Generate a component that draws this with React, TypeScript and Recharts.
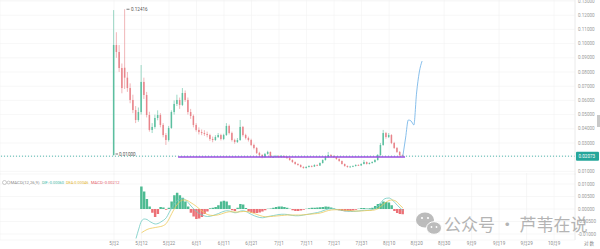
import {
  ComposedChart,
  Bar,
  Line,
  XAxis,
  YAxis,
  CartesianGrid,
  ReferenceLine,
  ReferenceDot,
  Cell,
} from 'recharts'

// day offsets from 5月2
const tickDays = [0, 10, 20, 30, 40, 50, 60, 70, 80, 90, 100, 110, 120, 130, 140, 150, 160]
const tickLabels = ['5月2', '5月12', '5月22', '6月1', '6月11', '6月21', '7月1', '7月11', '7月21', '7月31', '8月10', '8月20', '8月30', '9月9', '9月19', '9月29', '10月9']

const priceTicks = [0.01, 0.03, 0.04, 0.05, 0.06, 0.07, 0.08, 0.09, 0.1, 0.11, 0.12, 0.13]
const macdTicks = [0.01, 0.005, 0, -0.005, -0.01]
const lastPrice = 0.02073
const supportPrice = 0.0201
const highPrice = 0.1242
const highText = '0.12416'
const lowPrice = 0.0212
const lowText = '0.01000'

const opens = [
  0.0215, 0.099, 0.0941, 0.0828, 0.083, 0.076, 0.0687, 0.0603, 0.0532, 0.0462,
  0.0518, 0.073, 0.0638, 0.0497, 0.0392, 0.0413, 0.0476, 0.0497, 0.0427, 0.0356,
  0.0321, 0.0406, 0.0518, 0.0575, 0.0603, 0.0568, 0.0652, 0.0603, 0.0518, 0.049,
  0.0427, 0.0392, 0.0377, 0.037, 0.0363, 0.0356, 0.0328, 0.0321, 0.0342, 0.0356,
  0.0328, 0.0356, 0.042, 0.037, 0.0321, 0.0307, 0.0321, 0.0413, 0.0356, 0.0335,
  0.0321, 0.0286, 0.0265, 0.023, 0.0215, 0.0201, 0.0223, 0.0237, 0.0201, 0.0203,
  0.0208, 0.0201, 0.0208, 0.0201, 0.0194, 0.018, 0.0166, 0.0152, 0.0145, 0.0131,
  0.0124, 0.0131, 0.0138, 0.0134, 0.0145, 0.0141, 0.0159, 0.018, 0.0201, 0.0215,
  0.0208, 0.0201, 0.0187, 0.0173, 0.0152, 0.0138, 0.0131, 0.0134, 0.0138, 0.0145,
  0.0142, 0.0152, 0.0166, 0.0152, 0.0159, 0.0166, 0.018, 0.0215, 0.0286, 0.037,
  0.0342, 0.0356, 0.03, 0.0265, 0.0237, 0.0215,
]
const highs = [
  0.1236, 0.108, 0.099, 0.086, 0.1242, 0.08, 0.072, 0.064, 0.056, 0.055,
  0.0849, 0.076, 0.066, 0.052, 0.044, 0.05, 0.053, 0.051, 0.044, 0.037,
  0.042, 0.053, 0.06, 0.064, 0.062, 0.0687, 0.067, 0.062, 0.054, 0.05,
  0.044, 0.041, 0.0395, 0.039, 0.038, 0.0365, 0.0345, 0.0355, 0.037, 0.0365,
  0.0365, 0.044, 0.043, 0.038, 0.033, 0.0335, 0.0462, 0.042, 0.0365, 0.0345,
  0.033, 0.0295, 0.0272, 0.0238, 0.0222, 0.023, 0.0245, 0.024, 0.0212, 0.0216,
  0.0214, 0.0215, 0.0212, 0.0206, 0.0198, 0.0185, 0.017, 0.0158, 0.015, 0.0136,
  0.0137, 0.0143, 0.0143, 0.015, 0.015, 0.0163, 0.0185, 0.0206, 0.0237, 0.0222,
  0.0213, 0.0205, 0.0192, 0.0177, 0.0156, 0.0142, 0.0139, 0.0143, 0.015, 0.015,
  0.0157, 0.018, 0.017, 0.0164, 0.0171, 0.0186, 0.0222, 0.03, 0.0392, 0.0378,
  0.037, 0.0362, 0.0308, 0.0272, 0.0243, 0.0219,
]
const lows = [
  0.0212, 0.09, 0.08, 0.065, 0.068, 0.066, 0.058, 0.051, 0.044, 0.045,
  0.05, 0.061, 0.048, 0.038, 0.037, 0.04, 0.046, 0.041, 0.034, 0.0286,
  0.031, 0.04, 0.05, 0.056, 0.054, 0.056, 0.059, 0.05, 0.047, 0.041,
  0.038, 0.036, 0.0355, 0.035, 0.034, 0.0315, 0.0305, 0.0315, 0.0335, 0.0318,
  0.032, 0.035, 0.036, 0.031, 0.0295, 0.03, 0.0315, 0.0345, 0.0325, 0.031,
  0.0278, 0.0255, 0.0222, 0.0205, 0.0192, 0.0196, 0.0218, 0.0195, 0.0195, 0.0198,
  0.0196, 0.0197, 0.0195, 0.0188, 0.0175, 0.016, 0.0147, 0.014, 0.0127, 0.0119,
  0.012, 0.0127, 0.0129, 0.0131, 0.0137, 0.0138, 0.0155, 0.0176, 0.0196, 0.02,
  0.0195, 0.0182, 0.0168, 0.0148, 0.0133, 0.0126, 0.0127, 0.013, 0.0134, 0.0138,
  0.0139, 0.0149, 0.0148, 0.0149, 0.0155, 0.0162, 0.0176, 0.021, 0.028, 0.033,
  0.0335, 0.0292, 0.0258, 0.023, 0.0205, 0.0201,
]
const closes = [
  0.099, 0.0941, 0.0828, 0.0687, 0.076, 0.0687, 0.0603, 0.0532, 0.0462, 0.0518,
  0.073, 0.0638, 0.0497, 0.0392, 0.0413, 0.0476, 0.0497, 0.0427, 0.0356, 0.0321,
  0.0406, 0.0518, 0.0575, 0.0603, 0.0568, 0.0652, 0.0603, 0.0518, 0.049, 0.0427,
  0.0392, 0.0377, 0.037, 0.0363, 0.0356, 0.0328, 0.0321, 0.0342, 0.0356, 0.0328,
  0.0356, 0.042, 0.037, 0.0321, 0.0307, 0.0321, 0.0413, 0.0356, 0.0335, 0.0321,
  0.0286, 0.0265, 0.023, 0.0215, 0.0201, 0.0223, 0.0237, 0.0201, 0.0203, 0.0208,
  0.0201, 0.0208, 0.0201, 0.0194, 0.018, 0.0166, 0.0152, 0.0145, 0.0131, 0.0124,
  0.0131, 0.0138, 0.0134, 0.0145, 0.0141, 0.0159, 0.018, 0.0201, 0.0215, 0.0208,
  0.0201, 0.0187, 0.0173, 0.0152, 0.0138, 0.0131, 0.0134, 0.0138, 0.0145, 0.0142,
  0.0152, 0.0166, 0.0152, 0.0159, 0.0166, 0.018, 0.0215, 0.0286, 0.037, 0.0342,
  0.0356, 0.03, 0.0265, 0.0237, 0.0215, 0.0207,
]

// blue projection after the last candle
const forecastDays = [105, 106, 107, 108, 109, 110, 111, 112]
const forecastPrices = [0.0207, 0.0335, 0.0462, 0.0455, 0.0427, 0.0652, 0.08, 0.0877]

const difValues = [
  null, null, null, null, null, null, null, null, -0.0118, -0.008,
  -0.0048, -0.004, -0.0042, -0.005, -0.0056, -0.006, -0.0058, -0.0052, -0.0045, -0.0035,
  -0.0015, 0.0005, 0.0022, 0.0034, 0.004, 0.0042, 0.0036, 0.0025, 0.0012, 0.0,
  -0.001, -0.0018, -0.0024, -0.0028, -0.003, -0.0029, -0.0026, -0.0022, -0.0018, -0.0013,
  -0.0009, -0.0007, -0.0008, -0.0012, -0.0015, -0.0013, -0.0008, -0.0007, -0.001, -0.0016,
  -0.0022, -0.0027, -0.0031, -0.0034, -0.0035, -0.0033, -0.003, -0.0028, -0.0026, -0.0024,
  -0.0022, -0.0021, -0.0021, -0.0022, -0.0024, -0.0026, -0.0027, -0.0027, -0.0026, -0.0024,
  -0.0022, -0.002, -0.0018, -0.0016, -0.0014, -0.0011, -0.0007, -0.0003, 0.0, 0.0001,
  0.0, -0.0002, -0.0004, -0.0006, -0.0008, -0.0009, -0.001, -0.001, -0.0009, -0.0008,
  -0.0006, -0.0005, -0.0005, -0.0004, -0.0002, 0.0003, 0.0012, 0.0025, 0.0038, 0.0043,
  0.0044, 0.0038, 0.0027, 0.0015, 0.0004, -0.0006,
]
const deaValues = [
  null, null, null, null, null, null, null, null, null, null,
  -0.0095, -0.0088, -0.0082, -0.0078, -0.0076, -0.0074, -0.0072, -0.007, -0.0066, -0.0058,
  -0.004, -0.0018, 0.0002, 0.0018, 0.003, 0.0036, 0.0036, 0.0032, 0.0025, 0.0018,
  0.001, 0.0001, -0.0008, -0.0016, -0.0022, -0.0025, -0.0026, -0.0025, -0.0023, -0.002,
  -0.0016, -0.0013, -0.0011, -0.0011, -0.0012, -0.0012, -0.0011, -0.001, -0.001, -0.0011,
  -0.0014, -0.0018, -0.0022, -0.0026, -0.0029, -0.0031, -0.0031, -0.003, -0.0029, -0.0028,
  -0.0027, -0.0026, -0.0025, -0.0024, -0.0024, -0.0024, -0.0024, -0.0024, -0.0024, -0.0023,
  -0.0022, -0.0021, -0.002, -0.0019, -0.0018, -0.0016, -0.0013, -0.0009, -0.0006, -0.0004,
  -0.0003, -0.0003, -0.0003, -0.0004, -0.0005, -0.0006, -0.0007, -0.0008, -0.0008, -0.0008,
  -0.0008, -0.0007, -0.0006, -0.0006, -0.0005, -0.0003, 0.0002, 0.001, 0.002, 0.0028,
  0.0034, 0.0036, 0.0034, 0.0027, 0.0015, 0.0005,
]
const histValues = [
  null, null, null, null, null, null, null, null, null, null,
  0.009, 0.007, 0.004, 0.001, -0.0015, -0.0032, -0.002, 0.0008, 0.0006, -0.0003,
  0.0005, 0.003, 0.0055, 0.0065, 0.0055, 0.0045, 0.003, 0.001, -0.0015, -0.003,
  -0.004, -0.0038, -0.0032, -0.002, -0.001, 0.0003, 0.0005, 0.0008, 0.0015, 0.003,
  0.0033, 0.003, 0.0015, -0.0005, -0.0008, 0.0005, 0.002, 0.0018, 0.0004, -0.001,
  -0.0015, -0.0016, -0.0016, -0.0014, -0.001, -0.0005, 0.0001, 0.0002, 0.0005, 0.0008,
  0.001, 0.001, 0.0008, 0.0005, 0.0001, -0.0005, -0.0008, -0.0008, -0.0006, -0.0003,
  0.0001, 0.0003, 0.0005, 0.0005, 0.0006, 0.0007, 0.0008, 0.001, 0.0009, 0.0006,
  0.0002, -0.0002, -0.0005, -0.0008, -0.0009, -0.0009, -0.0008, -0.0006, -0.0003, 0.0001,
  0.0004, 0.0004, 0.0002, 0.0003, 0.0005, 0.0012, 0.002, 0.0022, 0.003, 0.0028,
  0.0026, 0.0015, -0.0008, -0.0016, -0.002, -0.0021,
]

const X_DOMAIN: [number, number] = [-41.45, 167.6]
const UP = '#5bbf9f'
const DOWN = '#e8848a'
const TEAL = '#26a69a'
const TICK_FONT = 'Roboto, "Noto Sans CJK SC", sans-serif'

const rows = Array.from({ length: 113 }, (_, d) => {
  const fi = forecastDays.indexOf(d)
  return {
    d,
    open: opens[d] ?? null,
    high: highs[d] ?? null,
    low: lows[d] ?? null,
    close: closes[d] ?? null,
    forecast: fi >= 0 ? forecastPrices[fi] : null,
    dif: difValues[d] ?? null,
    dea: deaValues[d] ?? null,
    hist: histValues[d] ?? null,
  }
})

const candleRange = (r: any) => (r.open == null ? null : [r.low, r.high])

const Candle = (props: any) => {
  const { x, y, width, height, payload } = props
  if (!payload || payload.open == null || !isFinite(y) || !isFinite(height)) return <g />
  const top = Math.min(y, y + height)
  const h = Math.abs(height)
  const span = payload.high - payload.low
  const py = (v: number) => top + ((payload.high - v) / span) * h
  const color = payload.close >= payload.open ? UP : DOWN
  const cx = x + width / 2
  const bTop = py(Math.max(payload.open, payload.close))
  const bBot = py(Math.min(payload.open, payload.close))
  return (
    <g>
      <line x1={cx} x2={cx} y1={top} y2={top + h} stroke={color} strokeWidth={0.6} />
      <rect x={cx - 0.75} y={bTop} width={1.5} height={Math.max(0.8, bBot - bTop)} fill={color} />
    </g>
  )
}

const PriceTick = ({ x, y, payload }: any) => {
  const v = payload.value
  if (Math.abs(v - lastPrice) < 1e-9) {
    return (
      <g>
        <rect x={x - 1} y={y - 4.5} width={23} height={9} fill={TEAL} rx={1} />
        <text x={x + 1.5} y={y} dy={1.7} fontSize={4.6} fill="#fff" fontFamily={TICK_FONT}>
          {v.toFixed(5)}
        </text>
      </g>
    )
  }
  return (
    <text x={x + 1} y={y} dy={1.7} fontSize={4.6} fill="#9a9a9a" fontFamily={TICK_FONT}>
      {v.toFixed(5)}
    </text>
  )
}

const MacdTick = ({ x, y, payload }: any) => (
  <text x={x + 1} y={y} dy={1.7} fontSize={4.6} fill="#9a9a9a" fontFamily={TICK_FONT}>
    {payload.value.toFixed(5)}
  </text>
)

const DateTick = ({ x, y, payload }: any) => (
  <text x={x} y={y + 4.8} textAnchor="middle" fontSize={4.6} fill="#8a8a8a" fontFamily={TICK_FONT}>
    {tickLabels[tickDays.indexOf(payload.value)]}
  </text>
)

const HighMark = ({ cx, cy }: any) => (
  <g>
    <line x1={cx + 1.5} x2={cx + 4.5} y1={cy} y2={cy} stroke="#555" strokeWidth={0.8} />
    <text x={cx + 6} y={cy} dy={1.6} fontSize={4.6} fill="#555" fontFamily={TICK_FONT}>
      {highText}
    </text>
  </g>
)

const LowMark = ({ cx, cy }: any) => (
  <g>
    <line x1={cx + 1.5} x2={cx + 4} y1={cy - 1.5} y2={cy - 1.5} stroke="#555" strokeWidth={0.8} />
    <text x={cx + 5} y={cy - 1.5} dy={1.6} fontSize={4.6} fill="#555" fontFamily={TICK_FONT}>
      {lowText}
    </text>
  </g>
)

const App = () => {
  return (
    <div style={{ position: 'absolute', left: 0, top: 0, width: 600, height: 249, background: '#fff', overflow: 'hidden' }}>
      <div style={{ position: 'absolute', left: 0, top: 0 }}>
        <ComposedChart width={600} height={175} data={rows} margin={{ top: 0, right: 0, bottom: 0, left: 0 }}>
          <CartesianGrid stroke="#f2f2f2" strokeWidth={0.6} />
          <XAxis dataKey="d" type="number" domain={X_DOMAIN} ticks={tickDays} hide allowDataOverflow />
          <YAxis
            orientation="right"
            type="number"
            width={25}
            domain={[0.00746, 0.130704]}
            ticks={[...priceTicks, lastPrice]}
            tick={<PriceTick />}
            axisLine={{ stroke: '#eeeeee' }}
            tickLine={false}
            tickSize={0}
            interval={0}
            allowDataOverflow
          />
          <ReferenceLine y={lastPrice} stroke={TEAL} strokeDasharray="1 2" strokeWidth={0.8} />
          <ReferenceLine
            segment={[
              { x: 23.3, y: supportPrice },
              { x: 105.8, y: supportPrice },
            ]}
            stroke="#9a4fe0"
            strokeWidth={1.6}
          />
          <Bar dataKey={candleRange} shape={Candle} barSize={2} isAnimationActive={false} />
          <Line dataKey="forecast" type="monotone" stroke="#6aafe6" strokeWidth={0.8} dot={false} isAnimationActive={false} />
          <ReferenceDot x={4} y={highPrice} r={0} shape={HighMark} />
          <ReferenceDot x={0} y={lowPrice} r={0} shape={LowMark} />
        </ComposedChart>
      </div>
      <div style={{ position: 'absolute', left: 0, top: 173 }}>
        <ComposedChart width={600} height={76} data={rows} margin={{ top: 0, right: 0, bottom: 0, left: 0 }}>
          <CartesianGrid stroke="#f2f2f2" strokeWidth={0.6} />
          <XAxis
            dataKey="d"
            type="number"
            domain={X_DOMAIN}
            ticks={tickDays}
            tick={<DateTick />}
            tickLine={false}
            axisLine={false}
            tickSize={0}
            tickMargin={0}
            height={9}
            interval={0}
            allowDataOverflow
          />
          <YAxis
            orientation="right"
            type="number"
            width={25}
            domain={[-0.0124, 0.0144]}
            ticks={macdTicks}
            tick={<MacdTick />}
            axisLine={{ stroke: '#eeeeee' }}
            tickLine={false}
            tickSize={0}
            interval={0}
            allowDataOverflow
          />
          <Bar dataKey="hist" barSize={3} isAnimationActive={false}>
            {rows.map((r) => (
              <Cell key={r.d} fill={(r.hist ?? 0) >= 0 ? '#4dbb92' : '#ec7076'} />
            ))}
          </Bar>
          <Line dataKey="dif" type="monotone" stroke="#6fcac2" strokeWidth={0.8} dot={false} isAnimationActive={false} />
          <Line dataKey="dea" type="monotone" stroke="#ecc95a" strokeWidth={0.8} dot={false} isAnimationActive={false} />
        </ComposedChart>
      </div>
      <svg width={600} height={249} style={{ position: 'absolute', left: 0, top: 0, pointerEvents: 'none' }}>
        <g fontFamily={TICK_FONT} fontSize={4.2}>
          <circle cx={4.5} cy={182.5} r={2} fill="none" stroke="#999" strokeWidth={0.5} />
          <circle cx={8.6} cy={182.5} r={1.4} fill="none" stroke="#999" strokeWidth={0.5} />
          <text x={10.5} y={184} fill="#8a8a8a" textLength={29} lengthAdjust="spacingAndGlyphs">MACD(12,26,9)</text>
          <text x={42} y={184} fill="#3fb8a8" textLength={22} lengthAdjust="spacingAndGlyphs">DIF:-0.00060</text>
          <text x={66} y={184} fill="#e2b430" textLength={22.5} lengthAdjust="spacingAndGlyphs">DEA:0.00046</text>
          <text x={91} y={184} fill="#e4606a" textLength={28.5} lengthAdjust="spacingAndGlyphs">MACD:-0.00212</text>
          <text x={584} y={244.6} fontSize={4.6} fill="#8a8a8a" fontFamily='"Noto Sans CJK SC", sans-serif'>对 数</text>
        </g>
        <rect x={597} y={115} width={3} height={12} fill="#c8c8c8" />
        <g opacity={0.75}>
          <ellipse cx={425} cy={220} rx={9} ry={7.5} fill="#a6a6a6" />
          <circle cx={422} cy={218} r={1.1} fill="#fff" />
          <circle cx={428} cy={218} r={1.1} fill="#fff" />
          <ellipse cx={434} cy={228} rx={7.5} ry={6.3} fill="#a6a6a6" stroke="#fff" strokeWidth={1} />
          <circle cx={431.5} cy={227} r={0.9} fill="#fff" />
          <circle cx={436.5} cy={227} r={0.9} fill="#fff" />
          <text x={444} y={231} fontSize={17} fill="#9c9c9c" fontFamily='"Noto Sans CJK SC", sans-serif'>
            公众号 · 芦苇在说
          </text>
        </g>
      </svg>
    </div>
  )
}

export default App
